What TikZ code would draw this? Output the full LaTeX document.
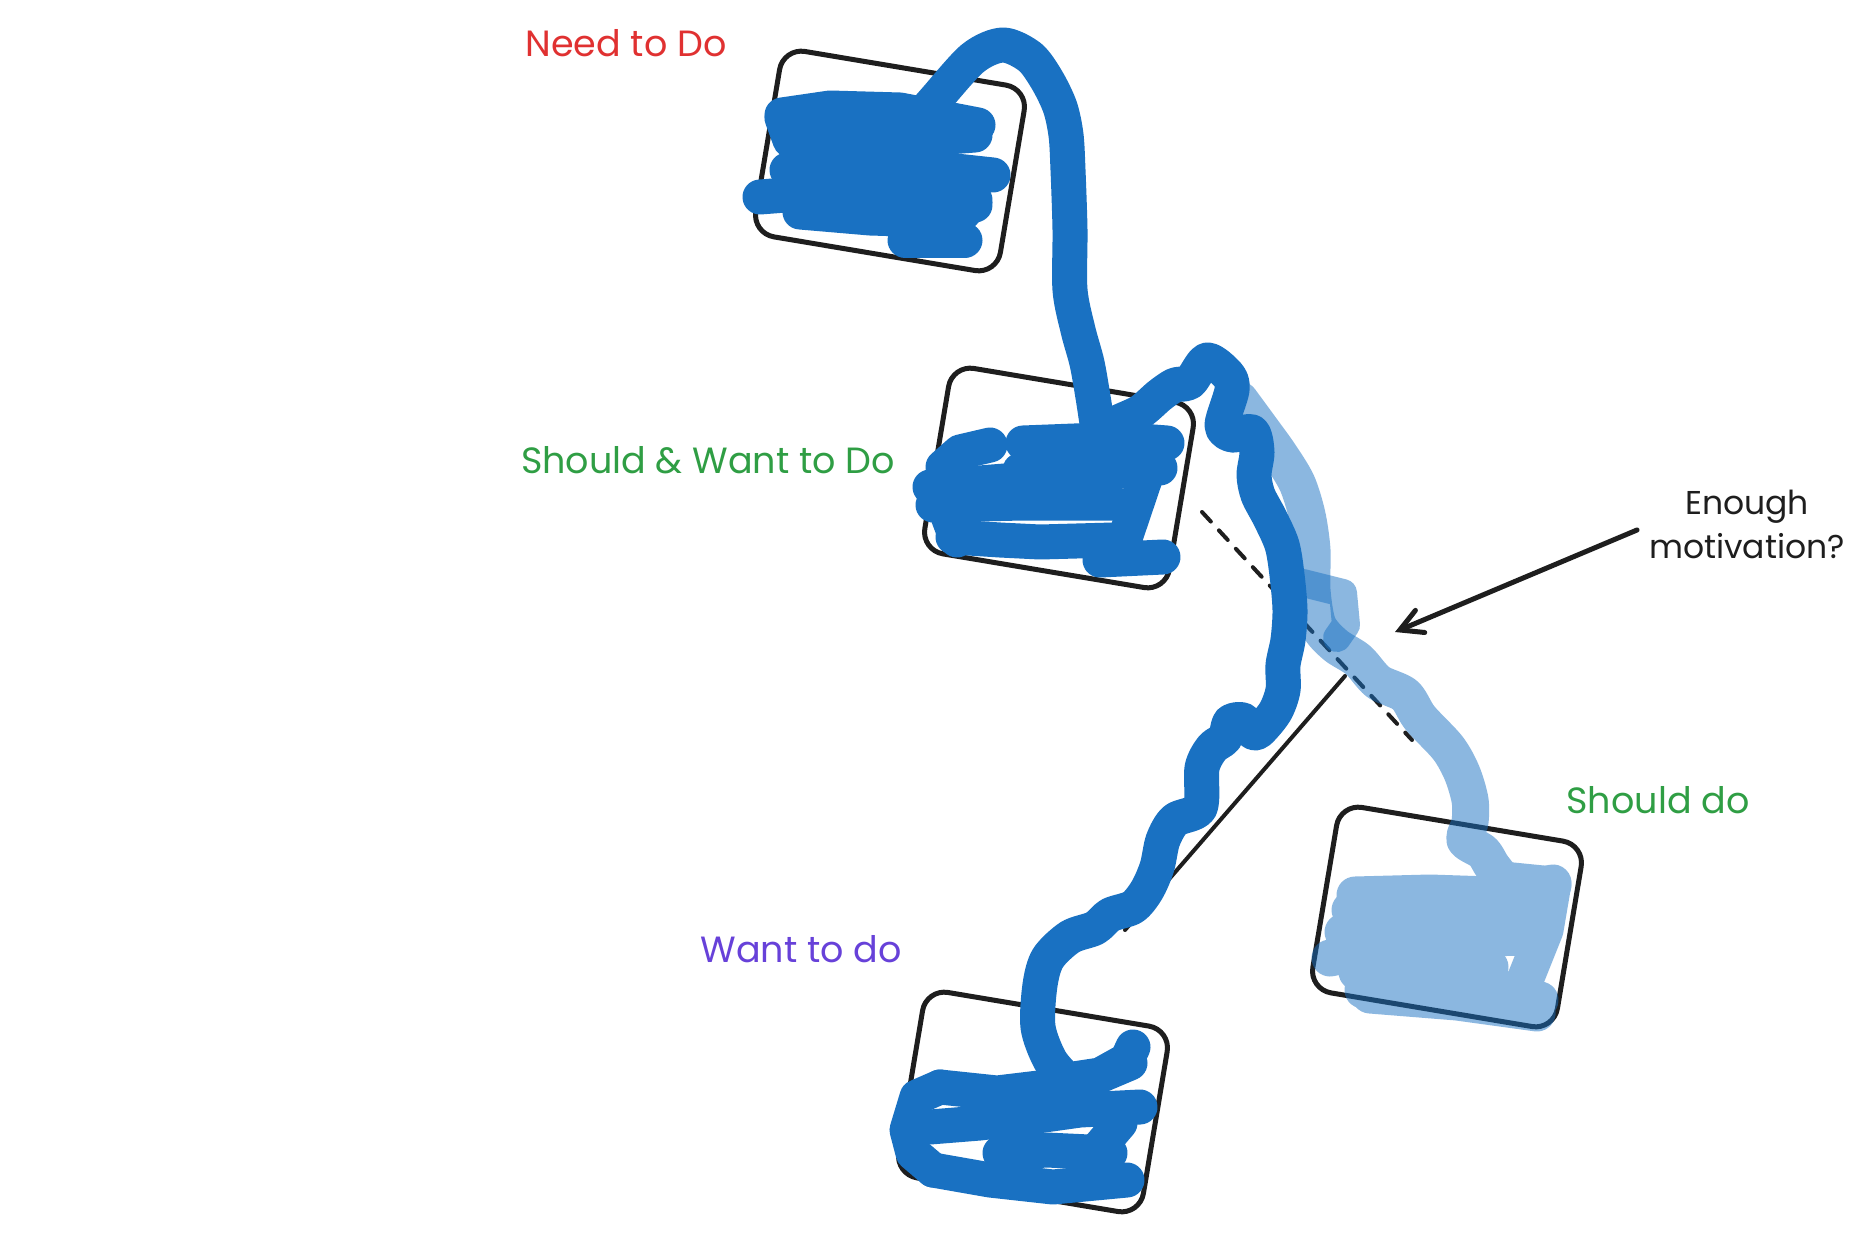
\documentclass[tikz,border=0pt]{standalone}
\usepackage{fontspec}
\setmainfont{Poppins}
\usetikzlibrary{arrows.meta}
\definecolor{ink}{HTML}{1E1E1E}
\definecolor{pen}{HTML}{1971C2}
\definecolor{redtxt}{HTML}{E03131}
\definecolor{greentxt}{HTML}{2F9E44}
\definecolor{violettxt}{HTML}{6741D9}
\begin{document}
\begin{tikzpicture}[x=1pt,y=-1pt,
  box/.style={draw=ink, line width=5pt, rounded corners=22pt, minimum width=248pt, minimum height=188pt, rotate=-9.5, inner sep=0pt},
  dark/.style={draw=pen, line width=35pt, line cap=round, line join=round},
  light/.style={draw=pen, line width=37pt, line cap=round, line join=round},
  lbl/.style={font=\fontsize{36.5}{42}\selectfont, inner sep=0pt, anchor=center},
  guide/.style={draw=ink, line width=4pt, line cap=round},
  ]
\useasboundingbox[fill=white] (0,0) rectangle (1864,1236);

% boxes
\node[box] (b1) at (890,161) {};
\node[box] (b2) at (1059,478) {};
\node[box] (b3) at (1033,1102) {};
\node[box] (b4) at (1447,917) {};

% labels
\node[lbl, text=redtxt] (l1) at (626,43) {Need to Do};
\node[lbl, text=greentxt] (l2) at (708,460) {Should \& Want to Do};
\node[lbl, text=violettxt] (l3) at (801,949) {Want to do};
\node[lbl, text=greentxt] (l4) at (1658,800) {Should do};
\node[lbl, text=ink, align=center, font=\fontsize{33}{44}\selectfont] (l5) at (1747,524) {Enough\\motivation?};

% guide lines
\coordinate (d1) at (1202,512);
\coordinate (d2) at (1412,740);
\coordinate (s1) at (1345,676);
\coordinate (s2) at (1125,930);
\coordinate (a1) at (1637,530);
\coordinate (a2) at (1395,632);
\draw[guide, dash pattern=on 13pt off 12pt] (d1) -- (d2);
\draw[guide] (s1) -- (s2);
\draw[draw=ink, line width=5pt, line cap=round, -{Straight Barb[length=22pt,width=24pt,line cap=round]}] (a1) -- (a2);

% light path (should do)
\begin{scope}[transparency group, opacity=0.5]
\draw[light] plot[smooth, tension=0.5] coordinates {(1240,400) (1262,430) (1280,455) (1297,483) (1307,515) (1312,550) (1312,590) (1318,625) (1335,645) (1358,660) (1378,682) (1405,695) (1420,718) (1448,748) (1462,773) (1470,800) (1470,822) (1465,840) (1483,852) (1492,866) (1503,880)};
\draw[light] (1503,880) -- (1553,885);
\draw[light] (1355,895) -- (1430,893) -- (1490,895) -- (1553,883) -- (1545,930) -- (1525,980) -- (1523,1000) -- (1537,1012);
\draw[light] (1350,910) -- (1523,907);
\draw[light] (1343,932) -- (1523,928);
\draw[light] (1330,958) -- (1423,940) -- (1523,937);
\draw[light] (1357,972) -- (1490,967);
\draw[light] (1363,990) -- (1473,980) -- (1540,1000);
\draw[light] (1370,995) -- (1457,1002) -- (1537,1013);
\end{scope}
\begin{scope}[opacity=0.5]
\draw[light, line width=28pt] (1303,583) -- (1343,593) -- (1346,625) -- (1337,638);
\end{scope}

% dark path
\draw[dark] plot[smooth, tension=0.5] coordinates {(905,135) (935,100) (973,58) (1003,45) (1030,57) (1047,80) (1060,107) (1066,135) (1068,170) (1070,230) (1070,290) (1078,330) (1087,363) (1093,397) (1097,423) (1100,440)};
\draw[dark] plot[smooth, tension=0.5] coordinates {(1100,440) (1113,425) (1140,412) (1160,395) (1175,385) (1190,382) (1207,360) (1228,375) (1232,390) (1222,425) (1232,435) (1252,432) (1257,452) (1254,475) (1258,495) (1270,518) (1282,545) (1287,575) (1290,610) (1288,640) (1283,665) (1283,690) (1275,712) (1258,732) (1250,730) (1243,720) (1230,722) (1225,738) (1212,748) (1202,768) (1200,808) (1175,820) (1163,840) (1157,867) (1147,890) (1133,907) (1110,915) (1095,928) (1070,937) (1048,958) (1040,985) (1038,1027) (1050,1060) (1067,1080)};

% box 1 scribble
\draw[dark] (782,115) -- (830,108) -- (900,110) -- (978,125);
\draw[dark] (782,118) -- (790,140) -- (880,142) -- (975,135);
\draw[dark] (787,170) -- (900,165) -- (993,175);
\draw[dark] (760,197) -- (850,190) -- (935,195) -- (975,205);
\draw[dark] (800,212) -- (870,218) -- (935,220) -- (970,200) -- (968,178);
\draw[dark] (905,240) -- (965,240);
\draw[dark] (950,228) -- (975,200);
\draw[dark] (880,110) -- (905,135);

% box 2 scribble
\draw[dark] (1100,440) -- (1023,443);
\draw[dark] (1100,438) -- (1167,443);
\draw[dark] (930,487) -- (1017,480) -- (1100,472) -- (1160,468);
\draw[dark] (943,467) -- (960,452) -- (990,445);
\draw[dark] (933,505) -- (1023,503) -- (1113,503);
\draw[dark] (953,537) -- (1000,540) -- (1040,542) -- (1113,540);
\draw[dark] (940,495) -- (957,540);
\draw[dark] (1147,473) -- (1120,553) -- (1100,560) -- (1163,557);
\draw[dark] (1020,470) -- (1110,470);

% box 3 scribble
\draw[dark] (1067,1080) -- (1100,1075) -- (1127,1060) -- (1133,1047);
\draw[dark] (940,1087) -- (997,1093) -- (1047,1087) -- (1097,1077) -- (1130,1063);
\draw[dark] (930,1127) -- (980,1123) -- (1030,1117) -- (1080,1110) -- (1140,1107);
\draw[dark] (940,1087) -- (917,1097) -- (907,1130) -- (913,1153) -- (933,1170);
\draw[dark] (1000,1153) -- (1047,1150) -- (1110,1153);
\draw[dark] (933,1170) -- (990,1180) -- (1053,1187) -- (1127,1180);
\draw[dark] (1120,1123) -- (1097,1150) -- (1087,1170);
\draw[dark] (1000,1100) -- (1060,1100);
\end{tikzpicture}
\end{document}
